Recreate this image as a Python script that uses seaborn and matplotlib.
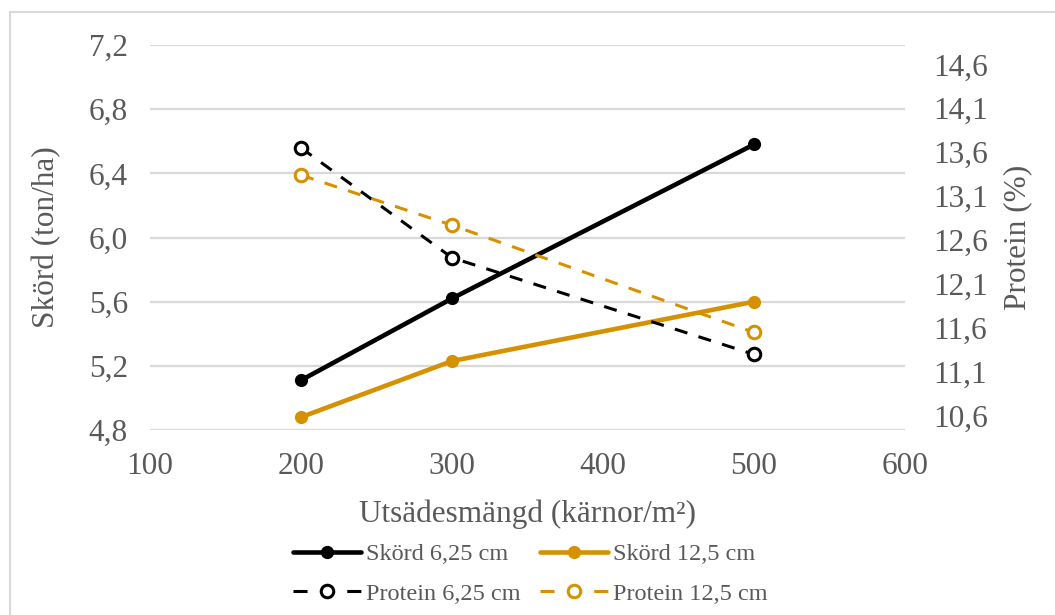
import matplotlib
matplotlib.use("Agg")
import matplotlib.pyplot as plt
from matplotlib.lines import Line2D
from matplotlib.patches import Rectangle
import seaborn as sns

# Data
utsade = [200, 300, 500]
skord_625 = [5.11, 5.62, 6.58]
skord_125 = [4.88, 5.23, 5.60]
protein_625 = [13.65, 12.40, 11.30]
protein_125 = [13.34, 12.77, 11.55]

x_ticks = [100, 200, 300, 400, 500, 600]
left_ticks = [4.8, 5.2, 5.6, 6.0, 6.4, 6.8, 7.2]
right_ticks = [10.6, 11.1, 11.6, 12.1, 12.6, 13.1, 13.6, 14.1, 14.6]

BLACK = "#000000"
GOLD = "#D69100"
TEXT = "#595959"
GRID = "#D9D9D9"
FS = 22.5

sns.set_theme(style="white")
plt.rcParams["font.family"] = ["Liberation Serif", "DejaVu Serif"]

fig = plt.figure(figsize=(10.55, 6.15), dpi=100)
ax = fig.add_axes([0.1422, 0.3008, 0.7156, 0.6260])
ax2 = ax.twinx()

def comma(v):
    return f"{v:.1f}".replace(".", ",")

# Yield lines (left axis)
sns.lineplot(x=utsade, y=skord_625, ax=ax, color=BLACK, linewidth=3.3,
             marker="o", markersize=9.5, markeredgewidth=0, zorder=4)
sns.lineplot(x=utsade, y=skord_125, ax=ax, color=GOLD, linewidth=3.3,
             marker="o", markersize=9.5, markeredgewidth=0, zorder=4)

# Protein lines (right axis)
dash = (4.3, 3.8)
sns.lineplot(x=utsade, y=protein_625, ax=ax2, color=BLACK, linewidth=2.2,
             dashes=False, marker="o", markersize=9, markerfacecolor="white",
             markeredgecolor=BLACK, markeredgewidth=2.2, zorder=4)
ax2.lines[-1].set_dashes(dash)
sns.lineplot(x=utsade, y=protein_125, ax=ax2, color=GOLD, linewidth=2.2,
             dashes=False, marker="o", markersize=9, markerfacecolor="white",
             markeredgecolor=GOLD, markeredgewidth=2.2, zorder=4)
ax2.lines[-1].set_dashes(dash)

# Axes setup
ax.set_xlim(100, 600)
ax.set_ylim(4.8, 7.2)
ax.set_xticks(x_ticks)
ax.set_xticklabels([str(t) for t in x_ticks])
ax.set_yticks(left_ticks)
ax.set_yticklabels([comma(t) for t in left_ticks])
ax.yaxis.grid(True, color=GRID, linewidth=1.6)
ax.set_axisbelow(True)

ax2.set_ylim(10.44, 14.82)
ax2.set_yticks(right_ticks)
ax2.set_yticklabels([comma(t) for t in right_ticks])
ax2.grid(False)

for a in (ax, ax2):
    for s in a.spines.values():
        s.set_visible(False)
    a.tick_params(axis="both", length=0, labelsize=FS, colors=TEXT)

ax.tick_params(axis="x", pad=16)
ax.tick_params(axis="y", pad=16)
ax2.tick_params(axis="y", pad=20)

ax.set_xlabel("Utsädesmängd (kärnor/m²)", fontsize=FS, color=TEXT, labelpad=13)
ax.set_ylabel("Skörd (ton/ha)", fontsize=FS, color=TEXT, labelpad=20)
ax2.set_ylabel("Protein (%)", fontsize=FS, color=TEXT, labelpad=11)

# Legend
legend_dash = (0, (4.6, 13.0))
handles = [
    Line2D([], [], color=BLACK, lw=3.3, marker="o", markersize=9.5, markeredgewidth=0),
    Line2D([], [], color=BLACK, lw=2.2, ls=legend_dash, marker="o", markersize=9,
           markerfacecolor="white", markeredgecolor=BLACK, markeredgewidth=2.2),
    Line2D([], [], color=GOLD, lw=3.3, marker="o", markersize=9.5, markeredgewidth=0),
    Line2D([], [], color=GOLD, lw=2.2, ls=legend_dash, marker="o", markersize=9,
           markerfacecolor="white", markeredgecolor=GOLD, markeredgewidth=2.2),
]
labels = ["Skörd 6,25 cm", "Protein 6,25 cm", "Skörd 12,5 cm", "Protein 12,5 cm"]
fig.legend(handles, labels, loc="center", bbox_to_anchor=(0.503, 0.067), ncol=2,
           frameon=False, fontsize=17.5, labelcolor=TEXT, handlelength=2.8,
           handletextpad=0.2, columnspacing=0.8, labelspacing=0.72)

# Chart border
fig.patches.append(Rectangle((10 / 1055, -0.01), 1.05, 1 - 12 / 615 + 0.01,
                             transform=fig.transFigure, fill=False,
                             edgecolor=GRID, linewidth=1.5))

fig.savefig("out.png", dpi=100)
